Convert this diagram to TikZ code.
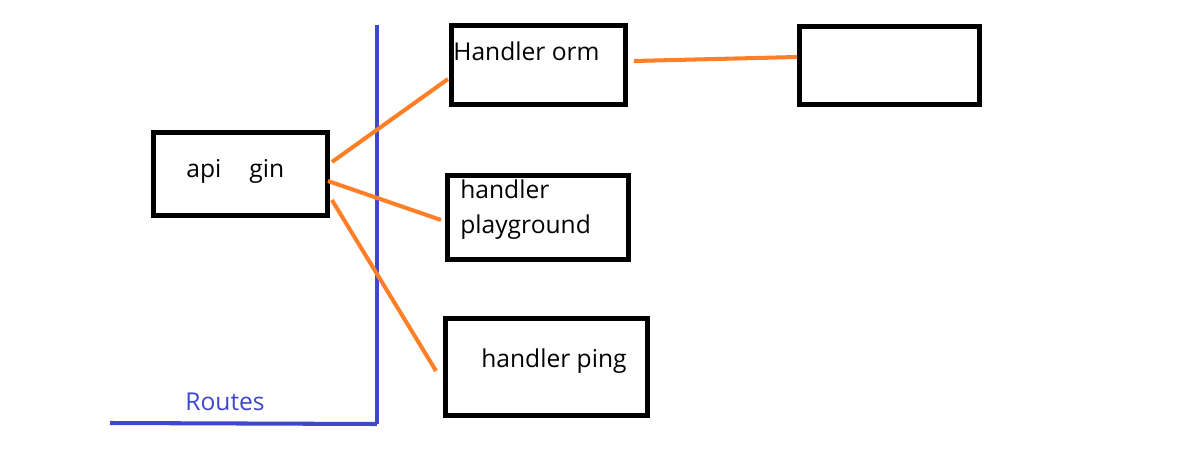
\documentclass[tikz,border=0pt]{standalone}
\usepackage{fontspec}
\setmainfont{Open Sans}
\usetikzlibrary{positioning}
\usetikzlibrary{calc}
\definecolor{paintorange}{HTML}{FF7F27}
\definecolor{paintblue}{HTML}{3F48CC}
\tikzset{box/.style={draw, line width=2.8pt, inner sep=0pt}}
\tikzset{lbl/.style={anchor=base west, inner sep=0pt, font=\fontsize{14}{16}\selectfont}}
\tikzset{wire/.style={draw=paintorange, line width=2.3pt}}
\tikzset{axis/.style={draw=paintblue, line width=2.3pt}}

\begin{document}
\begin{tikzpicture}[x=0.02cm, y=-0.02cm]
        \useasboundingbox (0,0) rectangle (1204,460);
        % boxes
        \node[box, minimum width=3.48cm, minimum height=1.66cm] (api) at (240.5, 174) {};
        \node[box, minimum width=3.48cm, minimum height=1.58cm] (orm) at (538.5, 65) {};
        \node[box, minimum width=3.6cm, minimum height=1.56cm] (db) at (889.5, 65.5) {};
        \node[box, minimum width=3.62cm, minimum height=1.68cm] (play) at (538, 217.5) {};
        \node[box, minimum width=4.04cm, minimum height=1.94cm] (ping) at (546.5, 367) {};
        % texts
        \node[lbl] (apiT) at (186, 177) {api};
        \node[lbl] (ginT) at (249, 177) {gin};
        \node[lbl] (ormT) at (453, 60) {Handler orm};
        \node[lbl] (playA) at (460, 198) {handler};
        \node[lbl] (playB) at (460, 233) {playground};
        \node[lbl] (pingT) at (481, 367) {handler ping};
        \node[lbl, text=paintblue] (routesT) at (185, 410) {Routes};
        % routes axis
        \coordinate (axTop) at (377, 25);
        \coordinate (axCorner) at (377, 424);
        \coordinate (axLeft) at (110, 423);
        \draw[axis] (axTop) -- (axCorner);
        \draw[axis] (axLeft) -- (axCorner);
        % wires
        \draw[wire] ($(api.east)+(2,-12)$) -- ($(orm.west)+(-1,14)$);
        \draw[wire] ($(api.east)+(-2,7)$) -- ($(play.west)+(-4,2.5)$);
        \draw[wire] ($(api.east)+(2,26)$) -- ($(ping.west)+(-7,4)$);
        \draw[wire] ($(orm.east)+(6,-4)$) -- ($(db.west)+(0,-8.5)$);
    \end{tikzpicture}
\end{document}
